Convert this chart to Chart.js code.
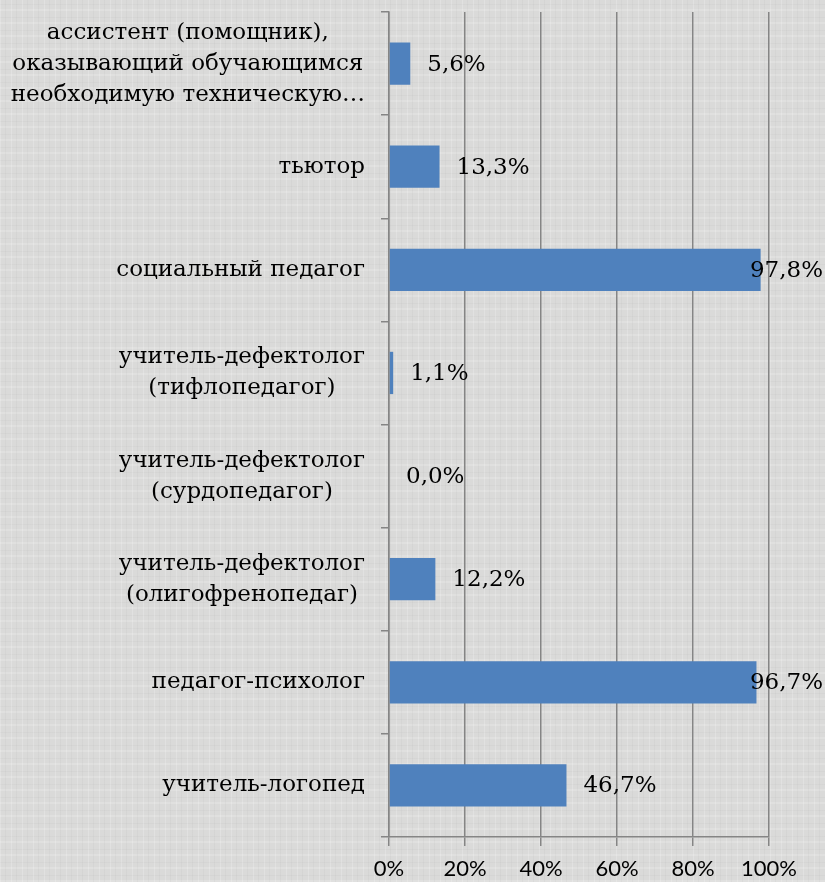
<!DOCTYPE html>
<html>
<head>
<meta charset="utf-8">
<script src="https://cdn.jsdelivr.net/npm/chart.js@4/dist/chart.umd.min.js"></script>
<style>
  html, body { margin: 0; padding: 0; }
  body {
    width: 825px; height: 882px; overflow: hidden;
    background-color: #dadad9;
    background-image:
      repeating-linear-gradient(90deg, rgba(255,255,255,0.20) 0px, rgba(255,255,255,0.20) 1px, transparent 1px, transparent 5px, rgba(150,150,150,0.08) 5px, rgba(150,150,150,0.08) 6px, transparent 6px, transparent 11px),
      repeating-linear-gradient(0deg, rgba(255,255,255,0.16) 0px, rgba(255,255,255,0.16) 2px, transparent 2px, transparent 6px, rgba(150,150,150,0.07) 6px, rgba(150,150,150,0.07) 7px, transparent 7px, transparent 13px);
  }
  #wrap { position: absolute; left: 0; top: 0; width: 825px; height: 882px; }
</style>
</head>
<body>
<div id="wrap"><canvas id="c" width="825" height="882"></canvas></div>
<script>
const categories = [
  ["ассистент (помощник),", "оказывающий обучающимся", "необходимую техническую…"],
  ["тьютор"],
  ["социальный педагог"],
  ["учитель-дефектолог", "(тифлопедагог)"],
  ["учитель-дефектолог", "(сурдопедагог)"],
  ["учитель-дефектолог", "(олигофренопедаг)"],
  ["педагог-психолог"],
  ["учитель-логопед"]
];
const values = [5.6, 13.3, 97.8, 1.1, 0.0, 12.2, 96.7, 46.7];
const xTicks = [0, 20, 40, 60, 80, 100];

const GRID = '#858585';
const SERIF = '23px "DejaVu Serif"';

const catLabelPlugin = {
  id: 'catLabels',
  afterDraw(chart) {
    const ctx = chart.ctx;
    const ys = chart.scales.y;
    const right = chart.chartArea.left - 24;
    const lh = 31;
    ctx.save();
    ctx.font = SERIF;
    ctx.fillStyle = '#000';
    ctx.textAlign = 'center';
    ctx.textBaseline = 'middle';
    categories.forEach((lines, i) => {
      const cy = ys.getPixelForValue(i);
      const maxW = Math.max(...lines.map(l => ctx.measureText(l).width));
      const cx = right - maxW / 2;
      const y0 = cy - (lines.length - 1) * lh / 2;
      lines.forEach((l, k) => ctx.fillText(l, cx, y0 + k * lh));
    });
    ctx.restore();
  }
};

const valueLabelPlugin = {
  id: 'valueLabels',
  afterDatasetsDraw(chart) {
    const ctx = chart.ctx;
    const meta = chart.getDatasetMeta(0);
    ctx.save();
    ctx.font = SERIF;
    ctx.fillStyle = '#000';
    ctx.textAlign = 'left';
    ctx.textBaseline = 'middle';
    meta.data.forEach((bar, i) => {
      const t = values[i].toFixed(1).replace('.', ',') + '%';
      const w = ctx.measureText(t).width;
      let x = bar.x + 17;
      if (x + w > chart.width - 2) x = chart.width - 2 - w;
      ctx.fillText(t, x, bar.y + 1);
    });
    ctx.restore();
  }
};

new Chart(document.getElementById('c'), {
  type: 'bar',
  data: {
    labels: categories.map(c => c.join(' ')),
    datasets: [{
      data: values,
      backgroundColor: '#4f81bd',
      borderWidth: 0,
      categoryPercentage: 1,
      barPercentage: 0.41
    }]
  },
  options: {
    indexAxis: 'y',
    responsive: false,
    animation: false,
    devicePixelRatio: 1,
    layout: { padding: { top: 12, right: 56, left: 0, bottom: 0 } },
    plugins: { legend: { display: false }, tooltip: { enabled: false } },
    scales: {
      x: {
        min: 0, max: 100,
        afterBuildTicks(s) { s.ticks = xTicks.map(v => ({ value: v })); },
        afterFit(s) { s.height = 45; },
        grid: { color: GRID, lineWidth: 1.5, drawTicks: true, tickLength: 9, tickColor: GRID },
        border: { display: true, color: GRID, width: 1.5 },
        ticks: {
          color: '#000',
          font: { family: 'Lato', size: 22 },
          padding: 10,
          maxRotation: 0,
          callback: v => v + '%'
        }
      },
      y: {
        afterFit(s) { s.width = 389; },
        grid: { offset: true, drawOnChartArea: false, drawTicks: true, tickLength: 8, color: GRID, tickColor: GRID, lineWidth: 1.5 },
        border: { display: true, color: GRID, width: 1.5 },
        ticks: { display: false }
      }
    }
  },
  plugins: [catLabelPlugin, valueLabelPlugin]
});
</script>
</body>
</html>
